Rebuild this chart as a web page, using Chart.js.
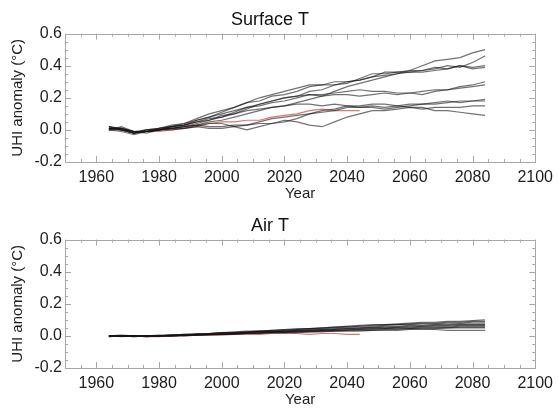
<!DOCTYPE html>
<html>
<head>
<meta charset="utf-8">
<script src="https://cdn.jsdelivr.net/npm/chart.js@4.4.1/dist/chart.umd.min.js"></script>
<style>
    body { margin: 0; background: #fff; }
    .panel { position: absolute; left: 0; width: 559px; height: 206px; }
</style>
</head>
<body>
<div class="panel" style="top:0"><canvas id="surfaceChart" width="559" height="206"></canvas></div>
<div class="panel" style="top:206px"><canvas id="airChart" width="559" height="206"></canvas></div>
<script>
// model years (every 4 years); observed run stops at 2044
const years = [1964, 1968, 1972, 1976, 1980, 1984, 1988, 1992, 1996, 2000,
               2004, 2008, 2012, 2016, 2020, 2024, 2028, 2032, 2036, 2040,
               2044, 2048, 2052, 2056, 2060, 2064, 2068, 2072, 2076, 2080, 2084];
const xTickLabels = [1960, 1980, 2000, 2020, 2040, 2060, 2080, 2100];
const yTickLabels = [-0.2, 0.0, 0.2, 0.4, 0.6];

// Surface T ensemble
const surf1  = [0.01, 0.01, -0.01, -0.01, 0.00, 0.01, 0.02, 0.04, 0.06, 0.09, 0.10, 0.13, 0.16, 0.18, 0.20, 0.21, 0.24, 0.25, 0.28, 0.30, 0.31, 0.33, 0.36, 0.36, 0.37, 0.40, 0.43, 0.44, 0.45, 0.48, 0.50];
const surf2  = [0.02, 0.00, -0.02, 0.00, 0.01, 0.02, 0.03, 0.06, 0.08, 0.11, 0.14, 0.17, 0.18, 0.21, 0.22, 0.24, 0.27, 0.28, 0.28, 0.29, 0.32, 0.35, 0.35, 0.36, 0.36, 0.37, 0.38, 0.40, 0.39, 0.42, 0.46];
const surf3  = [0.00, 0.02, -0.01, -0.01, 0.01, 0.02, 0.04, 0.07, 0.10, 0.12, 0.14, 0.17, 0.20, 0.22, 0.24, 0.26, 0.28, 0.28, 0.30, 0.30, 0.31, 0.33, 0.34, 0.35, 0.36, 0.36, 0.37, 0.38, 0.40, 0.39, 0.40];
const surf4  = [0.01, 0.00, -0.02, -0.01, 0.00, 0.01, 0.02, 0.03, 0.05, 0.06, 0.08, 0.10, 0.12, 0.14, 0.15, 0.17, 0.19, 0.21, 0.24, 0.27, 0.29, 0.31, 0.33, 0.35, 0.37, 0.37, 0.39, 0.38, 0.40, 0.38, 0.39];
const surf5  = [0.02, 0.01, -0.01, 0.00, 0.01, 0.03, 0.04, 0.06, 0.08, 0.10, 0.12, 0.14, 0.15, 0.17, 0.18, 0.20, 0.22, 0.22, 0.23, 0.24, 0.25, 0.24, 0.24, 0.23, 0.23, 0.22, 0.24, 0.25, 0.27, 0.28, 0.30];
const surf6  = [0.00, -0.01, -0.03, -0.01, 0.00, 0.02, 0.03, 0.05, 0.06, 0.08, 0.11, 0.14, 0.16, 0.18, 0.20, 0.21, 0.22, 0.21, 0.22, 0.22, 0.21, 0.22, 0.23, 0.22, 0.23, 0.24, 0.25, 0.25, 0.26, 0.27, 0.28];
const surf7  = [0.01, 0.01, -0.02, 0.00, 0.00, 0.02, 0.03, 0.05, 0.07, 0.08, 0.10, 0.12, 0.13, 0.14, 0.15, 0.16, 0.16, 0.15, 0.16, 0.15, 0.14, 0.14, 0.13, 0.14, 0.15, 0.16, 0.16, 0.17, 0.18, 0.18, 0.19];
const surf8  = [0.00, 0.01, -0.01, -0.02, 0.00, 0.01, 0.02, 0.03, 0.02, 0.02, 0.03, 0.03, 0.05, 0.07, 0.08, 0.09, 0.10, 0.11, 0.12, 0.14, 0.14, 0.15, 0.14, 0.15, 0.16, 0.16, 0.17, 0.18, 0.17, 0.18, 0.18];
const surf9  = [0.01, 0.00, -0.02, -0.01, 0.00, 0.01, 0.01, 0.02, 0.04, 0.04, 0.02, 0.00, 0.02, 0.04, 0.06, 0.05, 0.03, 0.02, 0.05, 0.08, 0.10, 0.12, 0.12, 0.13, 0.14, 0.13, 0.14, 0.14, 0.14, 0.15, 0.15];
const surf10 = [0.02, 0.00, -0.02, -0.01, 0.00, 0.00, 0.01, 0.02, 0.01, 0.01, 0.02, 0.03, 0.04, 0.04, 0.05, 0.07, 0.10, 0.12, 0.13, 0.15, 0.15, 0.16, 0.16, 0.15, 0.14, 0.14, 0.12, 0.12, 0.11, 0.10, 0.09];
const surfObs = [0.00, 0.00, -0.01, -0.01, -0.01, 0.00, 0.01, 0.03, 0.04, 0.05, 0.05, 0.06, 0.06, 0.08, 0.09, 0.10, 0.12, 0.13, 0.12, 0.12, 0.12];

// Air T ensemble
const air1  = [0.00, 0.00, -0.005, 0.00, 0.00, 0.005, 0.01, 0.01, 0.015, 0.02, 0.02, 0.025, 0.03, 0.035, 0.04, 0.04, 0.045, 0.05, 0.055, 0.06, 0.065, 0.07, 0.07, 0.075, 0.08, 0.085, 0.085, 0.09, 0.09, 0.095, 0.10];
const air2  = [0.00, 0.00, 0.00, 0.00, 0.005, 0.005, 0.01, 0.015, 0.015, 0.02, 0.025, 0.03, 0.03, 0.035, 0.04, 0.045, 0.045, 0.05, 0.055, 0.06, 0.06, 0.065, 0.07, 0.07, 0.075, 0.08, 0.08, 0.085, 0.085, 0.09, 0.09];
const air3  = [-0.005, 0.00, 0.00, 0.00, 0.00, 0.005, 0.005, 0.01, 0.015, 0.02, 0.02, 0.025, 0.03, 0.03, 0.035, 0.04, 0.045, 0.045, 0.05, 0.055, 0.06, 0.06, 0.065, 0.07, 0.07, 0.075, 0.075, 0.08, 0.08, 0.085, 0.085];
const air4  = [0.00, -0.005, 0.00, 0.00, 0.00, 0.00, 0.005, 0.01, 0.01, 0.015, 0.02, 0.02, 0.025, 0.03, 0.03, 0.035, 0.04, 0.04, 0.045, 0.05, 0.05, 0.055, 0.06, 0.06, 0.065, 0.065, 0.07, 0.07, 0.075, 0.075, 0.075];
const air5  = [0.00, 0.00, 0.00, -0.005, 0.00, 0.005, 0.005, 0.01, 0.01, 0.015, 0.015, 0.02, 0.025, 0.025, 0.03, 0.035, 0.035, 0.04, 0.04, 0.045, 0.05, 0.05, 0.055, 0.055, 0.06, 0.06, 0.065, 0.065, 0.07, 0.07, 0.07];
const air6  = [0.00, 0.00, -0.005, 0.00, 0.00, 0.00, 0.005, 0.005, 0.01, 0.015, 0.015, 0.02, 0.025, 0.025, 0.03, 0.03, 0.035, 0.035, 0.04, 0.045, 0.045, 0.05, 0.05, 0.055, 0.055, 0.06, 0.06, 0.06, 0.065, 0.065, 0.065];
const air7  = [0.00, 0.005, 0.00, 0.00, 0.00, 0.005, 0.005, 0.01, 0.01, 0.01, 0.015, 0.02, 0.02, 0.025, 0.025, 0.03, 0.03, 0.035, 0.035, 0.04, 0.04, 0.045, 0.045, 0.05, 0.05, 0.055, 0.055, 0.055, 0.06, 0.06, 0.06];
const air8  = [0.00, 0.00, 0.00, -0.005, 0.00, 0.00, 0.005, 0.005, 0.01, 0.01, 0.015, 0.015, 0.02, 0.02, 0.025, 0.025, 0.03, 0.03, 0.035, 0.035, 0.04, 0.04, 0.045, 0.045, 0.045, 0.05, 0.05, 0.05, 0.055, 0.055, 0.055];
const air9  = [-0.005, 0.00, 0.00, 0.00, 0.00, 0.00, 0.00, 0.005, 0.005, 0.01, 0.01, 0.015, 0.015, 0.02, 0.02, 0.025, 0.025, 0.03, 0.03, 0.035, 0.035, 0.035, 0.04, 0.04, 0.045, 0.045, 0.045, 0.05, 0.05, 0.05, 0.05];
const air10 = [0.00, 0.00, 0.00, 0.00, 0.00, 0.00, 0.005, 0.005, 0.01, 0.01, 0.01, 0.015, 0.015, 0.02, 0.02, 0.02, 0.025, 0.025, 0.03, 0.03, 0.03, 0.035, 0.035, 0.035, 0.04, 0.04, 0.04, 0.035, 0.035, 0.035, 0.035];
const airObs = [0.00, 0.00, 0.00, -0.005, -0.005, 0.00, 0.00, 0.005, 0.005, 0.005, 0.01, 0.01, 0.01, 0.015, 0.015, 0.015, 0.01, 0.015, 0.015, 0.01, 0.01];

Chart.defaults.font.family = "'Liberation Sans', Arial, Helvetica, sans-serif";
Chart.defaults.color = '#1c1c1c';

// IDL-style frame: box on all four sides with inward major/minor ticks
const frameTicks = {
    id: 'frameTicks',
    afterDraw(chart) {
        const { ctx, chartArea: a } = chart;
        const xs = chart.scales.x, ys = chart.scales.y;
        ctx.save();
        ctx.strokeStyle = '#a8a8a8';
        ctx.lineWidth = 1;
        ctx.strokeRect(Math.round(a.left) + 0.5, Math.round(a.top) + 0.5,
                       Math.round(a.right - a.left), Math.round(a.bottom - a.top));
        ctx.beginPath();
        for (let v = 1950; v <= 2100; v += 5) {
            const px = Math.round(xs.getPixelForValue(v)) + 0.5;
            const len = (v - 1960) % 20 === 0 ? 6 : 3;
            ctx.moveTo(px, a.bottom); ctx.lineTo(px, a.bottom - len);
            ctx.moveTo(px, a.top); ctx.lineTo(px, a.top + len);
        }
        for (let k = 0; k <= 16; k++) {
            const py = Math.round(ys.getPixelForValue(-0.2 + k * 0.05)) + 0.5;
            const len = k % 4 === 0 ? 6 : 3;
            ctx.moveTo(a.left, py); ctx.lineTo(a.left + len, py);
            ctx.moveTo(a.right, py); ctx.lineTo(a.right - len, py);
        }
        ctx.stroke();
        ctx.restore();
    }
};

function toPoints(vals) {
    return vals.map((v, i) => ({ x: years[i], y: v }));
}

function makePanel(canvasId, title, runs, obs) {
    const datasets = runs.map(vals => ({
        data: toPoints(vals),
        borderColor: 'rgba(20,20,20,0.6)',
        borderWidth: 1.2,
        pointRadius: 0,
        tension: 0,
        fill: false
    }));
    // observed run sits underneath the model runs
    datasets.push({
        data: toPoints(obs),
        borderColor: 'rgba(205,75,60,0.75)',
        borderWidth: 1.2,
        pointRadius: 0,
        tension: 0,
        fill: false
    });

    return new Chart(document.getElementById(canvasId).getContext('2d'), {
        type: 'line',
        data: { datasets: datasets },
        options: {
            responsive: false,
            animation: false,
            devicePixelRatio: 1,
            layout: { padding: { right: 19 } },
            plugins: {
                legend: { display: false },
                tooltip: { enabled: false },
                title: {
                    display: true,
                    text: title,
                    font: { size: 18, weight: 'normal' },
                    color: '#111',
                    padding: { top: 9, bottom: 3 }
                }
            },
            scales: {
                x: {
                    type: 'linear',
                    min: 1950,
                    max: 2100,
                    grid: { display: false, drawTicks: false },
                    border: { display: false },
                    afterBuildTicks: s => { s.ticks = xTickLabels.map(v => ({ value: v })); },
                    afterFit: s => { s.height = 44; },
                    ticks: {
                        font: { size: 16 },
                        padding: 6,
                        maxRotation: 0,
                        callback: v => String(v)
                    },
                    title: {
                        display: true,
                        text: 'Year',
                        font: { size: 15 },
                        padding: { top: 0, bottom: 3 }
                    }
                },
                y: {
                    min: -0.2,
                    max: 0.6,
                    grid: { display: false, drawTicks: false },
                    border: { display: false },
                    afterBuildTicks: s => { s.ticks = yTickLabels.map(v => ({ value: v })); },
                    afterFit: s => { s.width = 65; },
                    ticks: {
                        font: { size: 16 },
                        padding: 3,
                        callback: v => v.toFixed(1)
                    },
                    title: {
                        display: true,
                        text: 'UHI anomaly (°C)',
                        font: { size: 15 },
                        padding: { top: 9, bottom: 0 }
                    }
                }
            }
        },
        plugins: [frameTicks]
    });
}

makePanel('surfaceChart', 'Surface T',
    [surf1, surf2, surf3, surf4, surf5, surf6, surf7, surf8, surf9, surf10], surfObs);
makePanel('airChart', 'Air T',
    [air1, air2, air3, air4, air5, air6, air7, air8, air9, air10], airObs);
</script>
</body>
</html>
